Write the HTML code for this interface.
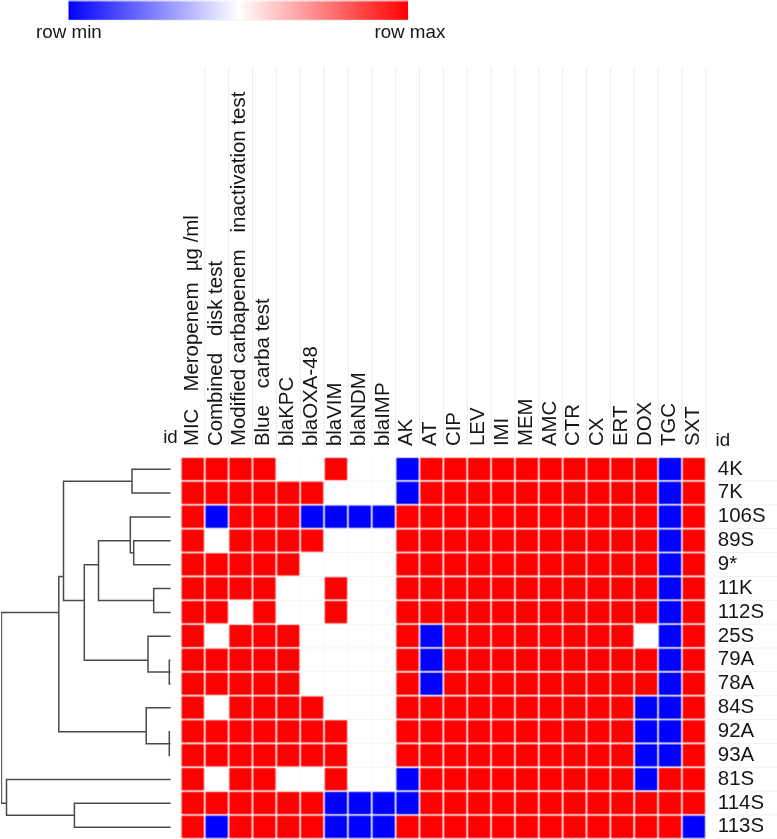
<!DOCTYPE html>
<html><head><meta charset="utf-8"><title>Heatmap</title>
<style>
html,body{margin:0;padding:0;background:#fff;}
body{width:777px;height:839px;overflow:hidden;position:relative;font-family:"Liberation Sans",sans-serif;}
svg{position:absolute;left:0;top:0;display:block;}
text{font-family:"Liberation Sans",sans-serif;fill:#161616;}
.lab{font-size:20.45px;white-space:pre;}
.leg{font-size:18.8px;}
</style></head><body>
<svg width="777" height="839" viewBox="0 0 777 839">
<defs><linearGradient id="g" x1="0" x2="1" y1="0" y2="0"><stop offset="0" stop-color="#0000ff"/><stop offset="0.5" stop-color="#ffffff"/><stop offset="1" stop-color="#ff0000"/></linearGradient></defs>
<rect x="0" y="0" width="777" height="839" fill="#fff"/>

<rect x="68.5" y="0" width="339.5" height="1.6" fill="url(#g)" opacity="0.3"/>
<rect x="68" y="19.4" width="341" height="1" fill="#d8d8d8" opacity="0.7"/>
<rect x="408" y="1" width="0.8" height="19" fill="#d8d8d8" opacity="0.6"/>
<rect x="68.5" y="1.4" width="339.5" height="18.4" fill="url(#g)"/>
<text class="leg" x="36" y="37.7">row min</text>
<text class="leg" x="374.4" y="37.7">row max</text>
<line x1="204.76" y1="67" x2="204.76" y2="447" stroke="#ececec" stroke-width="1"/>
<line x1="228.62" y1="67" x2="228.62" y2="447" stroke="#ececec" stroke-width="1"/>
<line x1="252.48" y1="67" x2="252.48" y2="447" stroke="#ececec" stroke-width="1"/>
<line x1="276.34" y1="67" x2="276.34" y2="447" stroke="#ececec" stroke-width="1"/>
<line x1="300.20" y1="67" x2="300.20" y2="447" stroke="#ececec" stroke-width="1"/>
<line x1="324.06" y1="67" x2="324.06" y2="447" stroke="#ececec" stroke-width="1"/>
<line x1="347.92" y1="67" x2="347.92" y2="447" stroke="#ececec" stroke-width="1"/>
<line x1="371.78" y1="67" x2="371.78" y2="447" stroke="#ececec" stroke-width="1"/>
<line x1="395.64" y1="67" x2="395.64" y2="447" stroke="#ececec" stroke-width="1"/>
<line x1="419.50" y1="67" x2="419.50" y2="447" stroke="#ececec" stroke-width="1"/>
<line x1="443.36" y1="67" x2="443.36" y2="447" stroke="#ececec" stroke-width="1"/>
<line x1="467.22" y1="67" x2="467.22" y2="447" stroke="#ececec" stroke-width="1"/>
<line x1="491.08" y1="67" x2="491.08" y2="447" stroke="#ececec" stroke-width="1"/>
<line x1="514.94" y1="67" x2="514.94" y2="447" stroke="#ececec" stroke-width="1"/>
<line x1="538.80" y1="67" x2="538.80" y2="447" stroke="#ececec" stroke-width="1"/>
<line x1="562.66" y1="67" x2="562.66" y2="447" stroke="#ececec" stroke-width="1"/>
<line x1="586.52" y1="67" x2="586.52" y2="447" stroke="#ececec" stroke-width="1"/>
<line x1="610.38" y1="67" x2="610.38" y2="447" stroke="#ececec" stroke-width="1"/>
<line x1="634.24" y1="67" x2="634.24" y2="447" stroke="#ececec" stroke-width="1"/>
<line x1="658.10" y1="67" x2="658.10" y2="447" stroke="#ececec" stroke-width="1"/>
<line x1="681.96" y1="67" x2="681.96" y2="447" stroke="#ececec" stroke-width="1"/>
<line x1="705.82" y1="67" x2="705.82" y2="447" stroke="#ececec" stroke-width="1"/>
<line x1="180.90" y1="458.30" x2="180.90" y2="839" stroke="#f4f4f4" stroke-width="1"/>
<line x1="204.76" y1="458.30" x2="204.76" y2="839" stroke="#f4f4f4" stroke-width="1"/>
<line x1="228.62" y1="458.30" x2="228.62" y2="839" stroke="#f4f4f4" stroke-width="1"/>
<line x1="252.48" y1="458.30" x2="252.48" y2="839" stroke="#f4f4f4" stroke-width="1"/>
<line x1="276.34" y1="458.30" x2="276.34" y2="839" stroke="#f4f4f4" stroke-width="1"/>
<line x1="300.20" y1="458.30" x2="300.20" y2="839" stroke="#f4f4f4" stroke-width="1"/>
<line x1="324.06" y1="458.30" x2="324.06" y2="839" stroke="#f4f4f4" stroke-width="1"/>
<line x1="347.92" y1="458.30" x2="347.92" y2="839" stroke="#f4f4f4" stroke-width="1"/>
<line x1="371.78" y1="458.30" x2="371.78" y2="839" stroke="#f4f4f4" stroke-width="1"/>
<line x1="395.64" y1="458.30" x2="395.64" y2="839" stroke="#f4f4f4" stroke-width="1"/>
<line x1="419.50" y1="458.30" x2="419.50" y2="839" stroke="#f4f4f4" stroke-width="1"/>
<line x1="443.36" y1="458.30" x2="443.36" y2="839" stroke="#f4f4f4" stroke-width="1"/>
<line x1="467.22" y1="458.30" x2="467.22" y2="839" stroke="#f4f4f4" stroke-width="1"/>
<line x1="491.08" y1="458.30" x2="491.08" y2="839" stroke="#f4f4f4" stroke-width="1"/>
<line x1="514.94" y1="458.30" x2="514.94" y2="839" stroke="#f4f4f4" stroke-width="1"/>
<line x1="538.80" y1="458.30" x2="538.80" y2="839" stroke="#f4f4f4" stroke-width="1"/>
<line x1="562.66" y1="458.30" x2="562.66" y2="839" stroke="#f4f4f4" stroke-width="1"/>
<line x1="586.52" y1="458.30" x2="586.52" y2="839" stroke="#f4f4f4" stroke-width="1"/>
<line x1="610.38" y1="458.30" x2="610.38" y2="839" stroke="#f4f4f4" stroke-width="1"/>
<line x1="634.24" y1="458.30" x2="634.24" y2="839" stroke="#f4f4f4" stroke-width="1"/>
<line x1="658.10" y1="458.30" x2="658.10" y2="839" stroke="#f4f4f4" stroke-width="1"/>
<line x1="681.96" y1="458.30" x2="681.96" y2="839" stroke="#f4f4f4" stroke-width="1"/>
<line x1="705.82" y1="458.30" x2="705.82" y2="839" stroke="#f4f4f4" stroke-width="1"/>
<line x1="182.10" y1="480.96" x2="706" y2="480.96" stroke="#f4f4f4" stroke-width="1"/>
<line x1="715" y1="480.96" x2="777" y2="480.96" stroke="#f1f1f1" stroke-width="1"/>
<line x1="182.10" y1="504.82" x2="706" y2="504.82" stroke="#f4f4f4" stroke-width="1"/>
<line x1="715" y1="504.82" x2="777" y2="504.82" stroke="#f1f1f1" stroke-width="1"/>
<line x1="182.10" y1="528.68" x2="706" y2="528.68" stroke="#f4f4f4" stroke-width="1"/>
<line x1="715" y1="528.68" x2="777" y2="528.68" stroke="#f1f1f1" stroke-width="1"/>
<line x1="182.10" y1="552.54" x2="706" y2="552.54" stroke="#f4f4f4" stroke-width="1"/>
<line x1="715" y1="552.54" x2="777" y2="552.54" stroke="#f1f1f1" stroke-width="1"/>
<line x1="182.10" y1="576.40" x2="706" y2="576.40" stroke="#f4f4f4" stroke-width="1"/>
<line x1="715" y1="576.40" x2="777" y2="576.40" stroke="#f1f1f1" stroke-width="1"/>
<line x1="182.10" y1="600.26" x2="706" y2="600.26" stroke="#f4f4f4" stroke-width="1"/>
<line x1="715" y1="600.26" x2="777" y2="600.26" stroke="#f1f1f1" stroke-width="1"/>
<line x1="182.10" y1="624.12" x2="706" y2="624.12" stroke="#f4f4f4" stroke-width="1"/>
<line x1="715" y1="624.12" x2="777" y2="624.12" stroke="#f1f1f1" stroke-width="1"/>
<line x1="182.10" y1="647.98" x2="706" y2="647.98" stroke="#f4f4f4" stroke-width="1"/>
<line x1="715" y1="647.98" x2="777" y2="647.98" stroke="#f1f1f1" stroke-width="1"/>
<line x1="182.10" y1="671.84" x2="706" y2="671.84" stroke="#f4f4f4" stroke-width="1"/>
<line x1="715" y1="671.84" x2="777" y2="671.84" stroke="#f1f1f1" stroke-width="1"/>
<line x1="182.10" y1="695.70" x2="706" y2="695.70" stroke="#f4f4f4" stroke-width="1"/>
<line x1="715" y1="695.70" x2="777" y2="695.70" stroke="#f1f1f1" stroke-width="1"/>
<line x1="182.10" y1="719.56" x2="706" y2="719.56" stroke="#f4f4f4" stroke-width="1"/>
<line x1="715" y1="719.56" x2="777" y2="719.56" stroke="#f1f1f1" stroke-width="1"/>
<line x1="182.10" y1="743.42" x2="706" y2="743.42" stroke="#f4f4f4" stroke-width="1"/>
<line x1="715" y1="743.42" x2="777" y2="743.42" stroke="#f1f1f1" stroke-width="1"/>
<line x1="182.10" y1="767.28" x2="706" y2="767.28" stroke="#f4f4f4" stroke-width="1"/>
<line x1="715" y1="767.28" x2="777" y2="767.28" stroke="#f1f1f1" stroke-width="1"/>
<line x1="182.10" y1="791.14" x2="706" y2="791.14" stroke="#f4f4f4" stroke-width="1"/>
<line x1="715" y1="791.14" x2="777" y2="791.14" stroke="#f1f1f1" stroke-width="1"/>
<line x1="182.10" y1="815.00" x2="706" y2="815.00" stroke="#f4f4f4" stroke-width="1"/>
<line x1="715" y1="815.00" x2="777" y2="815.00" stroke="#f1f1f1" stroke-width="1"/>
<line x1="182.10" y1="838.86" x2="706" y2="838.86" stroke="#f4f4f4" stroke-width="1"/>
<line x1="715" y1="838.86" x2="777" y2="838.86" stroke="#f1f1f1" stroke-width="1"/>
<defs><g id="r" fill="#ff0000"><rect x="-0.90" y="-0.90" width="24.01" height="24.01" rx="1.64" fill-opacity="0.13"/><rect x="-0.45" y="-0.45" width="23.11" height="23.11" rx="1.37" fill-opacity="0.253"/><rect x="-0.00" y="-0.00" width="22.21" height="22.21" rx="1.10" fill-opacity="0.462"/><rect x="0.45" y="0.45" width="21.31" height="21.31" rx="0.83" fill-opacity="0.629"/><rect x="0.90" y="0.90" width="20.41" height="20.41" rx="0.56" fill-opacity="1"/></g><g id="b" fill="#0000ff"><rect x="-0.90" y="-0.90" width="24.01" height="24.01" rx="1.64" fill-opacity="0.13"/><rect x="-0.45" y="-0.45" width="23.11" height="23.11" rx="1.37" fill-opacity="0.253"/><rect x="-0.00" y="-0.00" width="22.21" height="22.21" rx="1.10" fill-opacity="0.462"/><rect x="0.45" y="0.45" width="21.31" height="21.31" rx="0.83" fill-opacity="0.629"/><rect x="0.90" y="0.90" width="20.41" height="20.41" rx="0.56" fill-opacity="1"/></g></defs>
<use href="#r" x="181.69" y="457.89"/>
<use href="#r" x="205.56" y="457.89"/>
<use href="#r" x="229.41" y="457.89"/>
<use href="#r" x="253.27" y="457.89"/>
<use href="#r" x="324.86" y="457.89"/>
<use href="#b" x="396.44" y="457.89"/>
<use href="#r" x="420.29" y="457.89"/>
<use href="#r" x="444.15" y="457.89"/>
<use href="#r" x="468.01" y="457.89"/>
<use href="#r" x="491.88" y="457.89"/>
<use href="#r" x="515.73" y="457.89"/>
<use href="#r" x="539.60" y="457.89"/>
<use href="#r" x="563.45" y="457.89"/>
<use href="#r" x="587.32" y="457.89"/>
<use href="#r" x="611.17" y="457.89"/>
<use href="#r" x="635.03" y="457.89"/>
<use href="#b" x="658.89" y="457.89"/>
<use href="#r" x="682.75" y="457.89"/>
<use href="#r" x="181.69" y="481.75"/>
<use href="#r" x="205.56" y="481.75"/>
<use href="#r" x="229.41" y="481.75"/>
<use href="#r" x="253.27" y="481.75"/>
<use href="#r" x="277.13" y="481.75"/>
<use href="#r" x="301.00" y="481.75"/>
<use href="#b" x="396.44" y="481.75"/>
<use href="#r" x="420.29" y="481.75"/>
<use href="#r" x="444.15" y="481.75"/>
<use href="#r" x="468.01" y="481.75"/>
<use href="#r" x="491.88" y="481.75"/>
<use href="#r" x="515.73" y="481.75"/>
<use href="#r" x="539.60" y="481.75"/>
<use href="#r" x="563.45" y="481.75"/>
<use href="#r" x="587.32" y="481.75"/>
<use href="#r" x="611.17" y="481.75"/>
<use href="#r" x="635.03" y="481.75"/>
<use href="#b" x="658.89" y="481.75"/>
<use href="#r" x="682.75" y="481.75"/>
<use href="#r" x="181.69" y="505.62"/>
<use href="#b" x="205.56" y="505.62"/>
<use href="#r" x="229.41" y="505.62"/>
<use href="#r" x="253.27" y="505.62"/>
<use href="#r" x="277.13" y="505.62"/>
<use href="#b" x="301.00" y="505.62"/>
<use href="#b" x="324.86" y="505.62"/>
<use href="#b" x="348.71" y="505.62"/>
<use href="#b" x="372.57" y="505.62"/>
<use href="#r" x="396.44" y="505.62"/>
<use href="#r" x="420.29" y="505.62"/>
<use href="#r" x="444.15" y="505.62"/>
<use href="#r" x="468.01" y="505.62"/>
<use href="#r" x="491.88" y="505.62"/>
<use href="#r" x="515.73" y="505.62"/>
<use href="#r" x="539.60" y="505.62"/>
<use href="#r" x="563.45" y="505.62"/>
<use href="#r" x="587.32" y="505.62"/>
<use href="#r" x="611.17" y="505.62"/>
<use href="#r" x="635.03" y="505.62"/>
<use href="#b" x="658.89" y="505.62"/>
<use href="#r" x="682.75" y="505.62"/>
<use href="#r" x="181.69" y="529.48"/>
<use href="#r" x="229.41" y="529.48"/>
<use href="#r" x="253.27" y="529.48"/>
<use href="#r" x="277.13" y="529.48"/>
<use href="#r" x="301.00" y="529.48"/>
<use href="#r" x="396.44" y="529.48"/>
<use href="#r" x="420.29" y="529.48"/>
<use href="#r" x="444.15" y="529.48"/>
<use href="#r" x="468.01" y="529.48"/>
<use href="#r" x="491.88" y="529.48"/>
<use href="#r" x="515.73" y="529.48"/>
<use href="#r" x="539.60" y="529.48"/>
<use href="#r" x="563.45" y="529.48"/>
<use href="#r" x="587.32" y="529.48"/>
<use href="#r" x="611.17" y="529.48"/>
<use href="#r" x="635.03" y="529.48"/>
<use href="#b" x="658.89" y="529.48"/>
<use href="#r" x="682.75" y="529.48"/>
<use href="#r" x="181.69" y="553.34"/>
<use href="#r" x="205.56" y="553.34"/>
<use href="#r" x="229.41" y="553.34"/>
<use href="#r" x="253.27" y="553.34"/>
<use href="#r" x="277.13" y="553.34"/>
<use href="#r" x="396.44" y="553.34"/>
<use href="#r" x="420.29" y="553.34"/>
<use href="#r" x="444.15" y="553.34"/>
<use href="#r" x="468.01" y="553.34"/>
<use href="#r" x="491.88" y="553.34"/>
<use href="#r" x="515.73" y="553.34"/>
<use href="#r" x="539.60" y="553.34"/>
<use href="#r" x="563.45" y="553.34"/>
<use href="#r" x="587.32" y="553.34"/>
<use href="#r" x="611.17" y="553.34"/>
<use href="#r" x="635.03" y="553.34"/>
<use href="#b" x="658.89" y="553.34"/>
<use href="#r" x="682.75" y="553.34"/>
<use href="#r" x="181.69" y="577.19"/>
<use href="#r" x="205.56" y="577.19"/>
<use href="#r" x="229.41" y="577.19"/>
<use href="#r" x="253.27" y="577.19"/>
<use href="#r" x="324.86" y="577.19"/>
<use href="#r" x="396.44" y="577.19"/>
<use href="#r" x="420.29" y="577.19"/>
<use href="#r" x="444.15" y="577.19"/>
<use href="#r" x="468.01" y="577.19"/>
<use href="#r" x="491.88" y="577.19"/>
<use href="#r" x="515.73" y="577.19"/>
<use href="#r" x="539.60" y="577.19"/>
<use href="#r" x="563.45" y="577.19"/>
<use href="#r" x="587.32" y="577.19"/>
<use href="#r" x="611.17" y="577.19"/>
<use href="#r" x="635.03" y="577.19"/>
<use href="#b" x="658.89" y="577.19"/>
<use href="#r" x="682.75" y="577.19"/>
<use href="#r" x="181.69" y="601.05"/>
<use href="#r" x="205.56" y="601.05"/>
<use href="#r" x="253.27" y="601.05"/>
<use href="#r" x="324.86" y="601.05"/>
<use href="#r" x="396.44" y="601.05"/>
<use href="#r" x="420.29" y="601.05"/>
<use href="#r" x="444.15" y="601.05"/>
<use href="#r" x="468.01" y="601.05"/>
<use href="#r" x="491.88" y="601.05"/>
<use href="#r" x="515.73" y="601.05"/>
<use href="#r" x="539.60" y="601.05"/>
<use href="#r" x="563.45" y="601.05"/>
<use href="#r" x="587.32" y="601.05"/>
<use href="#r" x="611.17" y="601.05"/>
<use href="#r" x="635.03" y="601.05"/>
<use href="#b" x="658.89" y="601.05"/>
<use href="#r" x="682.75" y="601.05"/>
<use href="#r" x="181.69" y="624.91"/>
<use href="#r" x="229.41" y="624.91"/>
<use href="#r" x="253.27" y="624.91"/>
<use href="#r" x="277.13" y="624.91"/>
<use href="#r" x="396.44" y="624.91"/>
<use href="#b" x="420.29" y="624.91"/>
<use href="#r" x="444.15" y="624.91"/>
<use href="#r" x="468.01" y="624.91"/>
<use href="#r" x="491.88" y="624.91"/>
<use href="#r" x="515.73" y="624.91"/>
<use href="#r" x="539.60" y="624.91"/>
<use href="#r" x="563.45" y="624.91"/>
<use href="#r" x="587.32" y="624.91"/>
<use href="#r" x="611.17" y="624.91"/>
<use href="#b" x="658.89" y="624.91"/>
<use href="#r" x="682.75" y="624.91"/>
<use href="#r" x="181.69" y="648.77"/>
<use href="#r" x="205.56" y="648.77"/>
<use href="#r" x="229.41" y="648.77"/>
<use href="#r" x="253.27" y="648.77"/>
<use href="#r" x="277.13" y="648.77"/>
<use href="#r" x="396.44" y="648.77"/>
<use href="#b" x="420.29" y="648.77"/>
<use href="#r" x="444.15" y="648.77"/>
<use href="#r" x="468.01" y="648.77"/>
<use href="#r" x="491.88" y="648.77"/>
<use href="#r" x="515.73" y="648.77"/>
<use href="#r" x="539.60" y="648.77"/>
<use href="#r" x="563.45" y="648.77"/>
<use href="#r" x="587.32" y="648.77"/>
<use href="#r" x="611.17" y="648.77"/>
<use href="#r" x="635.03" y="648.77"/>
<use href="#b" x="658.89" y="648.77"/>
<use href="#r" x="682.75" y="648.77"/>
<use href="#r" x="181.69" y="672.63"/>
<use href="#r" x="205.56" y="672.63"/>
<use href="#r" x="229.41" y="672.63"/>
<use href="#r" x="253.27" y="672.63"/>
<use href="#r" x="277.13" y="672.63"/>
<use href="#r" x="396.44" y="672.63"/>
<use href="#b" x="420.29" y="672.63"/>
<use href="#r" x="444.15" y="672.63"/>
<use href="#r" x="468.01" y="672.63"/>
<use href="#r" x="491.88" y="672.63"/>
<use href="#r" x="515.73" y="672.63"/>
<use href="#r" x="539.60" y="672.63"/>
<use href="#r" x="563.45" y="672.63"/>
<use href="#r" x="587.32" y="672.63"/>
<use href="#r" x="611.17" y="672.63"/>
<use href="#r" x="635.03" y="672.63"/>
<use href="#b" x="658.89" y="672.63"/>
<use href="#r" x="682.75" y="672.63"/>
<use href="#r" x="181.69" y="696.50"/>
<use href="#r" x="229.41" y="696.50"/>
<use href="#r" x="253.27" y="696.50"/>
<use href="#r" x="277.13" y="696.50"/>
<use href="#r" x="301.00" y="696.50"/>
<use href="#r" x="396.44" y="696.50"/>
<use href="#r" x="420.29" y="696.50"/>
<use href="#r" x="444.15" y="696.50"/>
<use href="#r" x="468.01" y="696.50"/>
<use href="#r" x="491.88" y="696.50"/>
<use href="#r" x="515.73" y="696.50"/>
<use href="#r" x="539.60" y="696.50"/>
<use href="#r" x="563.45" y="696.50"/>
<use href="#r" x="587.32" y="696.50"/>
<use href="#r" x="611.17" y="696.50"/>
<use href="#b" x="635.03" y="696.50"/>
<use href="#b" x="658.89" y="696.50"/>
<use href="#r" x="682.75" y="696.50"/>
<use href="#r" x="181.69" y="720.36"/>
<use href="#r" x="205.56" y="720.36"/>
<use href="#r" x="229.41" y="720.36"/>
<use href="#r" x="253.27" y="720.36"/>
<use href="#r" x="277.13" y="720.36"/>
<use href="#r" x="301.00" y="720.36"/>
<use href="#r" x="324.86" y="720.36"/>
<use href="#r" x="396.44" y="720.36"/>
<use href="#r" x="420.29" y="720.36"/>
<use href="#r" x="444.15" y="720.36"/>
<use href="#r" x="468.01" y="720.36"/>
<use href="#r" x="491.88" y="720.36"/>
<use href="#r" x="515.73" y="720.36"/>
<use href="#r" x="539.60" y="720.36"/>
<use href="#r" x="563.45" y="720.36"/>
<use href="#r" x="587.32" y="720.36"/>
<use href="#r" x="611.17" y="720.36"/>
<use href="#b" x="635.03" y="720.36"/>
<use href="#b" x="658.89" y="720.36"/>
<use href="#r" x="682.75" y="720.36"/>
<use href="#r" x="181.69" y="744.21"/>
<use href="#r" x="205.56" y="744.21"/>
<use href="#r" x="229.41" y="744.21"/>
<use href="#r" x="253.27" y="744.21"/>
<use href="#r" x="277.13" y="744.21"/>
<use href="#r" x="301.00" y="744.21"/>
<use href="#r" x="324.86" y="744.21"/>
<use href="#r" x="396.44" y="744.21"/>
<use href="#r" x="420.29" y="744.21"/>
<use href="#r" x="444.15" y="744.21"/>
<use href="#r" x="468.01" y="744.21"/>
<use href="#r" x="491.88" y="744.21"/>
<use href="#r" x="515.73" y="744.21"/>
<use href="#r" x="539.60" y="744.21"/>
<use href="#r" x="563.45" y="744.21"/>
<use href="#r" x="587.32" y="744.21"/>
<use href="#r" x="611.17" y="744.21"/>
<use href="#b" x="635.03" y="744.21"/>
<use href="#b" x="658.89" y="744.21"/>
<use href="#r" x="682.75" y="744.21"/>
<use href="#r" x="181.69" y="768.08"/>
<use href="#r" x="229.41" y="768.08"/>
<use href="#r" x="253.27" y="768.08"/>
<use href="#r" x="324.86" y="768.08"/>
<use href="#b" x="396.44" y="768.08"/>
<use href="#r" x="420.29" y="768.08"/>
<use href="#r" x="444.15" y="768.08"/>
<use href="#r" x="468.01" y="768.08"/>
<use href="#r" x="491.88" y="768.08"/>
<use href="#r" x="515.73" y="768.08"/>
<use href="#r" x="539.60" y="768.08"/>
<use href="#r" x="563.45" y="768.08"/>
<use href="#r" x="587.32" y="768.08"/>
<use href="#r" x="611.17" y="768.08"/>
<use href="#b" x="635.03" y="768.08"/>
<use href="#r" x="658.89" y="768.08"/>
<use href="#r" x="682.75" y="768.08"/>
<use href="#r" x="181.69" y="791.93"/>
<use href="#r" x="205.56" y="791.93"/>
<use href="#r" x="229.41" y="791.93"/>
<use href="#r" x="253.27" y="791.93"/>
<use href="#r" x="277.13" y="791.93"/>
<use href="#r" x="301.00" y="791.93"/>
<use href="#b" x="324.86" y="791.93"/>
<use href="#b" x="348.71" y="791.93"/>
<use href="#b" x="372.57" y="791.93"/>
<use href="#b" x="396.44" y="791.93"/>
<use href="#r" x="420.29" y="791.93"/>
<use href="#r" x="444.15" y="791.93"/>
<use href="#r" x="468.01" y="791.93"/>
<use href="#r" x="491.88" y="791.93"/>
<use href="#r" x="515.73" y="791.93"/>
<use href="#r" x="539.60" y="791.93"/>
<use href="#r" x="563.45" y="791.93"/>
<use href="#r" x="587.32" y="791.93"/>
<use href="#r" x="611.17" y="791.93"/>
<use href="#r" x="635.03" y="791.93"/>
<use href="#r" x="658.89" y="791.93"/>
<use href="#r" x="682.75" y="791.93"/>
<use href="#r" x="181.69" y="815.79"/>
<use href="#b" x="205.56" y="815.79"/>
<use href="#r" x="229.41" y="815.79"/>
<use href="#r" x="253.27" y="815.79"/>
<use href="#r" x="277.13" y="815.79"/>
<use href="#r" x="301.00" y="815.79"/>
<use href="#b" x="324.86" y="815.79"/>
<use href="#b" x="348.71" y="815.79"/>
<use href="#b" x="372.57" y="815.79"/>
<use href="#r" x="396.44" y="815.79"/>
<use href="#r" x="420.29" y="815.79"/>
<use href="#r" x="444.15" y="815.79"/>
<use href="#r" x="468.01" y="815.79"/>
<use href="#r" x="491.88" y="815.79"/>
<use href="#r" x="515.73" y="815.79"/>
<use href="#r" x="539.60" y="815.79"/>
<use href="#r" x="563.45" y="815.79"/>
<use href="#r" x="587.32" y="815.79"/>
<use href="#r" x="611.17" y="815.79"/>
<use href="#r" x="635.03" y="815.79"/>
<use href="#r" x="658.89" y="815.79"/>
<use href="#b" x="682.75" y="815.79"/>
<text class="lab" xml:space="preserve" transform="translate(197.70,446.1) rotate(-90)">MIC   Meropenem  µg /ml</text>
<text class="lab" xml:space="preserve" transform="translate(221.56,446.1) rotate(-90)">Combined   disk test</text>
<text class="lab" xml:space="preserve" transform="translate(245.42,446.1) rotate(-90)">Modified carbapenem   inactivation test</text>
<text class="lab" xml:space="preserve" transform="translate(269.28,446.1) rotate(-90)">Blue   carba test</text>
<text class="lab" xml:space="preserve" transform="translate(293.14,446.1) rotate(-90)">blaKPC</text>
<text class="lab" xml:space="preserve" transform="translate(317.00,446.1) rotate(-90)">blaOXA-48</text>
<text class="lab" xml:space="preserve" transform="translate(340.86,446.1) rotate(-90)">blaVIM</text>
<text class="lab" xml:space="preserve" transform="translate(364.72,446.1) rotate(-90)">blaNDM</text>
<text class="lab" xml:space="preserve" transform="translate(388.58,446.1) rotate(-90)">blaIMP</text>
<text class="lab" xml:space="preserve" transform="translate(412.44,446.1) rotate(-90)">AK</text>
<text class="lab" xml:space="preserve" transform="translate(436.30,446.1) rotate(-90)">AT</text>
<text class="lab" xml:space="preserve" transform="translate(460.16,446.1) rotate(-90)">CIP</text>
<text class="lab" xml:space="preserve" transform="translate(484.02,446.1) rotate(-90)">LEV</text>
<text class="lab" xml:space="preserve" transform="translate(507.88,446.1) rotate(-90)">IMI</text>
<text class="lab" xml:space="preserve" transform="translate(531.74,446.1) rotate(-90)">MEM</text>
<text class="lab" xml:space="preserve" transform="translate(555.60,446.1) rotate(-90)">AMC</text>
<text class="lab" xml:space="preserve" transform="translate(579.46,446.1) rotate(-90)">CTR</text>
<text class="lab" xml:space="preserve" transform="translate(603.32,446.1) rotate(-90)">CX</text>
<text class="lab" xml:space="preserve" transform="translate(627.18,446.1) rotate(-90)">ERT</text>
<text class="lab" xml:space="preserve" transform="translate(651.04,446.1) rotate(-90)">DOX</text>
<text class="lab" xml:space="preserve" transform="translate(674.90,446.1) rotate(-90)">TGC</text>
<text class="lab" xml:space="preserve" transform="translate(698.76,446.1) rotate(-90)">SXT</text>
<text style="font-size:18.7px" x="163.2" y="443.2">id</text>
<text style="font-size:18.7px" x="715.6" y="445.6">id</text>
<text class="lab" x="717.8" y="474.50">4K</text>
<text class="lab" x="717.8" y="498.36">7K</text>
<text class="lab" x="717.8" y="522.22">106S</text>
<text class="lab" x="717.8" y="546.08">89S</text>
<text class="lab" x="717.8" y="569.94">9*</text>
<text class="lab" x="717.8" y="593.80">11K</text>
<text class="lab" x="717.8" y="617.66">112S</text>
<text class="lab" x="717.8" y="641.52">25S</text>
<text class="lab" x="717.8" y="665.38">79A</text>
<text class="lab" x="717.8" y="689.24">78A</text>
<text class="lab" x="717.8" y="713.10">84S</text>
<text class="lab" x="717.8" y="736.96">92A</text>
<text class="lab" x="717.8" y="760.82">93A</text>
<text class="lab" x="717.8" y="784.68">81S</text>
<text class="lab" x="717.8" y="808.54">114S</text>
<text class="lab" x="717.8" y="832.40">113S</text>
<path d="M132.00 469.25L169.80 469.25M132.00 493.11L169.80 493.11M132.00 469.25L132.00 493.11M63.50 481.18L132.00 481.18M130.30 516.97L169.80 516.97M130.30 516.97L130.30 552.76M130.30 552.76L133.70 552.76M133.70 540.83L133.70 564.69M133.70 540.83L169.80 540.83M133.70 564.69L169.80 564.69M98.50 540.83L130.30 540.83M153.70 588.55L169.80 588.55M153.70 612.41L169.80 612.41M153.70 588.55L153.70 612.41M98.50 600.48L153.70 600.48M98.50 540.83L98.50 600.48M84.30 564.69L98.50 564.69M148.00 636.27L169.80 636.27M169.30 660.13L169.80 660.13M169.30 683.99L169.80 683.99M169.30 660.13L169.30 683.99M148.00 672.06L169.80 672.06M148.00 636.27L148.00 672.06M84.30 660.13L148.00 660.13M84.30 564.69L84.30 660.13M63.50 600.48L84.30 600.48M63.50 481.18L63.50 600.48M58.80 576.62L63.50 576.62M146.20 707.85L169.80 707.85M169.30 731.71L169.30 755.57M146.20 743.64L169.80 743.64M146.20 707.85L146.20 743.64M58.80 731.71L146.20 731.71M58.80 576.62L58.80 731.71M1.70 612.41L58.80 612.41M6.50 779.43L169.80 779.43M74.40 803.29L169.80 803.29M74.40 827.15L169.80 827.15M74.40 803.29L74.40 827.15M6.50 815.22L74.40 815.22M6.50 779.43L6.50 815.22M1.70 803.29L6.50 803.29" stroke="#4a4a4a" stroke-width="1.5" fill="none" stroke-linecap="square"/>
<path d="M1.6 612.41L1.6 803.29" stroke="#5a5a5a" stroke-width="1.1" fill="none"/>
</svg></body></html>
